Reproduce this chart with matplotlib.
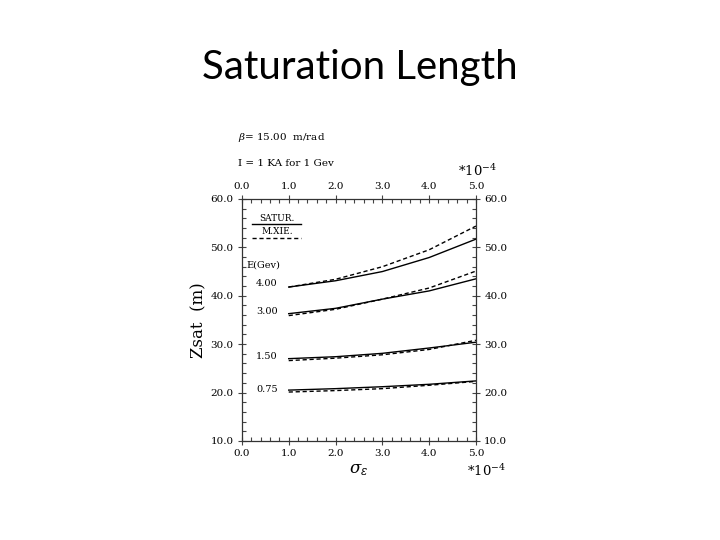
import numpy as np
import matplotlib
matplotlib.use('Agg')
import matplotlib.pyplot as plt
from matplotlib.ticker import MultipleLocator, FormatStrFormatter

# sigma_eps (*10^-4)
sigma = [1.0, 2.0, 3.0, 4.0, 5.0]
energies = ['4.00', '3.00', '1.50', '0.75']

# saturation length (m), SATUR. (solid) and M.XIE. (dashed)
satur = {
    '4.00': [41.8, 43.1, 45.0, 47.9, 51.7],
    '3.00': [36.3, 37.4, 39.3, 41.0, 43.5],
    '1.50': [27.0, 27.4, 28.1, 29.2, 30.4],
    '0.75': [20.5, 20.8, 21.2, 21.7, 22.4],
}
mxie = {
    '4.00': [41.8, 43.4, 46.0, 49.5, 54.4],
    '3.00': [35.9, 37.2, 39.3, 41.6, 45.1],
    '1.50': [26.6, 27.1, 27.8, 28.9, 30.8],
    '0.75': [20.1, 20.4, 20.8, 21.5, 22.3],
}
label_y = {'4.00': 42.6, '3.00': 36.7, '1.50': 27.4, '0.75': 20.7}

serif = 'DejaVu Serif'
plt.rcParams['mathtext.fontset'] = 'dejavuserif'

fig = plt.figure(figsize=(7.2, 5.4), dpi=100)
fig.text(0.5, 0.875, 'Saturation Length', ha='center', va='center',
         fontsize=29, family='Lato')

ax = fig.add_axes([0.336, 0.1835, 0.325, 0.448])
for e in energies:
    ax.plot(sigma, satur[e], '-', c='black', lw=1.0)
    ax.plot(sigma, mxie[e], c='black', lw=1.0, ls=(0, (3, 2)))
    ax.text(0.3, label_y[e], e, fontsize=7, family=serif, va='center')

ax.set_xlim(0, 5)
ax.set_ylim(10, 60)
ax.xaxis.set_major_locator(MultipleLocator(1.0))
ax.xaxis.set_minor_locator(MultipleLocator(0.2))
ax.yaxis.set_major_locator(MultipleLocator(10.0))
ax.yaxis.set_minor_locator(MultipleLocator(2.0))
ax.xaxis.set_major_formatter(FormatStrFormatter('%.1f'))
ax.yaxis.set_major_formatter(FormatStrFormatter('%.1f'))
ax.tick_params(which='both', top=True, right=True, labeltop=True, labelright=True,
               labelsize=7.5, width=0.8, color='#444444')
ax.tick_params(which='major', direction='inout', length=6, pad=3)
ax.tick_params(which='minor', direction='in', length=3)
for lab in ax.get_xticklabels() + ax.get_yticklabels():
    lab.set_family(serif)
for sp in ax.spines.values():
    sp.set_linewidth(0.9)
    sp.set_color('#333333')

# legend drawn by hand like the original
ax.text(0.75, 55.9, 'SATUR.', fontsize=6.5, family=serif, ha='center', va='center')
ax.plot([0.21, 1.26], [54.8, 54.8], '-', c='black', lw=1.0)
ax.text(0.75, 53.2, 'M.XIE.', fontsize=6.5, family=serif, ha='center', va='center')
ax.plot([0.21, 1.26], [51.9, 51.9], c='black', lw=1.0, ls=(0, (3, 2)))
ax.text(0.1, 46.4, 'E(Gev)', fontsize=7, family=serif, va='center')

ax.set_ylabel('Zsat  (m)', fontsize=12, family=serif, labelpad=2)
ax.set_xlabel(r'$\sigma_\varepsilon$', fontsize=12, labelpad=1)

fig.text(0.33, 0.746, r'$\beta$= 15.00  m/rad', fontsize=7.5, family=serif, va='center')
fig.text(0.33, 0.698, 'I = 1 KA for 1 Gev', fontsize=7.5, family=serif, va='center')
fig.text(0.636, 0.684, r'*10$^{-4}$', fontsize=9.5, family=serif, va='center')
fig.text(0.649, 0.128, r'*10$^{-4}$', fontsize=9.5, family=serif, va='center')

fig.savefig('out.png', dpi=100)
